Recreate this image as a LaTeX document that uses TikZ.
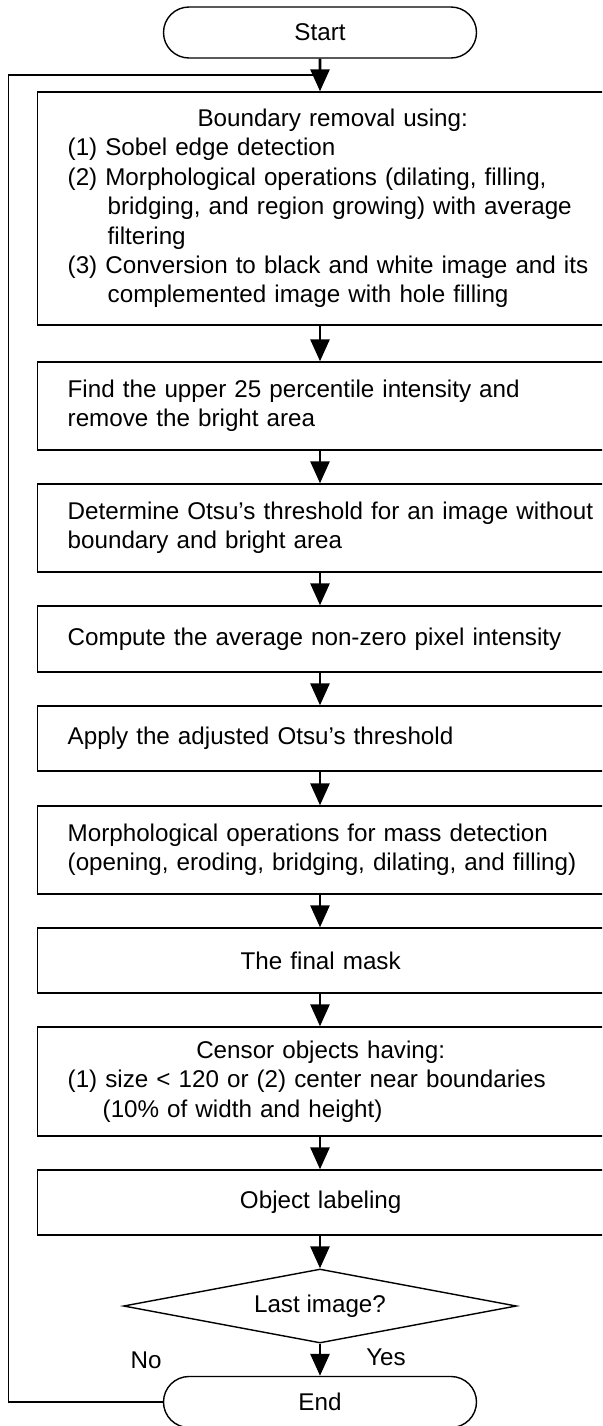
\documentclass[tikz,border=0pt]{standalone}
\usepackage{fontspec}
\setmainfont{Liberation Sans}
\usetikzlibrary{arrows.meta,shapes.misc,shapes.geometric}

\begin{document}
\begin{tikzpicture}[
  x=0.5pt, y=-0.5pt,
  font=\fontsize{12.1}{14.7}\selectfont,
  >={Triangle[length=11pt,width=9.5pt]},
  kasten/.style={
    shape=rectangle, anchor=west, draw, line width=0.7pt,
    inner xsep=15pt, inner ysep=0pt, align=left
  },
  terminal/.style={
    shape=rounded rectangle, draw, line width=0.7pt,
    minimum width=156.5pt, minimum height=25.5pt, inner sep=0pt
  },
  raute/.style={
    shape=diamond, draw, line width=0.7pt, aspect=5.3,
    minimum width=196.5pt, minimum height=37pt, inner sep=0pt
  },
  pfeil/.style={line width=1.4pt}
]

\useasboundingbox (0,0) rectangle (602,1426);
\clip (0,0) rectangle (602,1426);

\draw (320, 32.5) node [terminal] (start) {Start};

\draw (37, 208.5) node [kasten, text width=265pt, minimum height=116.5pt] (b1) {%
  \makebox[\linewidth]{Boundary removal using:}\\
  (1) Sobel edge detection\\
  (2) Morphological operations (dilating, filling,\\
  \hspace*{20pt}bridging, and region growing) with average\\
  \hspace*{20pt}filtering\\
  (3) Conversion to black and white image and its\\
  \hspace*{20pt}complemented image with hole filling};
\draw (37, 406) node [kasten, text width=270pt, minimum height=44pt] (b2)
  {Find the upper 25 percentile intensity and\\ remove the bright area};
\draw (37, 528) node [kasten, text width=270pt, minimum height=44pt] (b3)
  {Determine Otsu’s threshold for an image without\\ boundary and bright area};
\draw (37, 639) node [kasten, text width=270pt, minimum height=33pt] (b4)
  {Compute the average non-zero pixel intensity};
\draw (37, 738.5) node [kasten, text width=270pt, minimum height=32.5pt] (b5)
  {Apply the adjusted Otsu’s threshold};
\draw (37, 850) node [kasten, text width=270pt, minimum height=44pt] (b6)
  {Morphological operations for mass detection\\ (opening, eroding, bridging, dilating, and filling)};
\draw (37, 960.5) node [kasten, text width=253pt, minimum height=32.5pt, align=center] (b7)
  {The final mask};
\draw (37, 1081.5) node [kasten, text width=253pt, minimum height=54.5pt] (b8) {%
  \makebox[\linewidth]{Censor objects having:}\\
  (1) size < 120 or (2) center near boundaries\\
  \hspace*{17.5pt}(10\% of width and height)};
\draw (37, 1202.5) node [kasten, text width=253pt, minimum height=32.5pt, align=center] (b9)
  {Object labeling};

\draw (320, 1306) node [raute] (frage) {Last image?};
\draw (320, 1402) node [terminal] (ende) {End};

\draw (146, 1360) node (nein) {No};
\draw (386, 1357) node (ja) {Yes};

% loop back
\coordinate (links) at (8.5, 1402);
\coordinate (oben) at (320, 75);
\draw [line width=0.7pt] (ende.west) -- (links) |- (oben);

\path [pfeil]
      (start) edge[->] (start |- b1.north)
      (b1.south -| start) edge[->] (start |- b2.north)
      (b2.south -| start) edge[->] (start |- b3.north)
      (b3.south -| start) edge[->] (start |- b4.north)
      (b4.south -| start) edge[->] (start |- b5.north)
      (b5.south -| start) edge[->] (start |- b6.north)
      (b6.south -| start) edge[->] (start |- b7.north)
      (b7.south -| start) edge[->] (start |- b8.north)
      (b8.south -| start) edge[->] (start |- b9.north)
      (b9.south -| start) edge[->] (frage)
      (frage) edge[->] (ende);
\end{tikzpicture}
\end{document}
